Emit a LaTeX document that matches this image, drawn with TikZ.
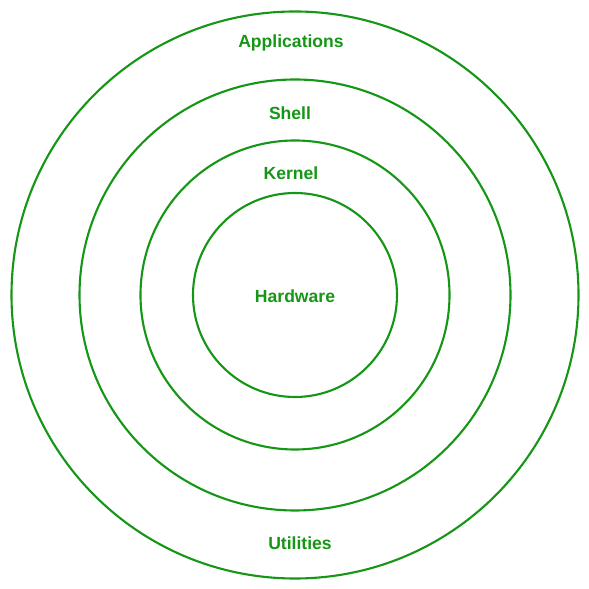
\documentclass[tikz,border=0pt]{standalone}
\usepackage{fontspec}
\setmainfont{Liberation Sans}
\usepackage{tikz}
\definecolor{ringgreen}{RGB}{22,150,22}
\tikzset{
	ring/.style={draw=ringgreen,line width=.6pt},
	layer/.style={text=ringgreen,font=\fontsize{5}{6}\selectfont\bfseries,inner sep=0pt}
}
\begin{document}
\begin{tikzpicture}

\useasboundingbox (0,0) rectangle (5.89,5.89);

\coordinate (O) at (2.95,2.94);

\draw[ring] (O) circle (2.835);
\draw[ring] (O) circle (2.155);
\draw[ring] (O) circle (1.545);
\draw[ring] (O) circle (1.02);

\node[layer] (apps) at (2.91,5.46) {Applications};
\node[layer] (shell) at (2.90,4.76) {Shell};
\node[layer] (kernel) at (2.91,4.16) {Kernel};
\node[layer] (hw) at (2.95,2.93) {Hardware};
\node[layer] (util) at (3.00,0.46) {Utilities};

\end{tikzpicture}
\end{document}
